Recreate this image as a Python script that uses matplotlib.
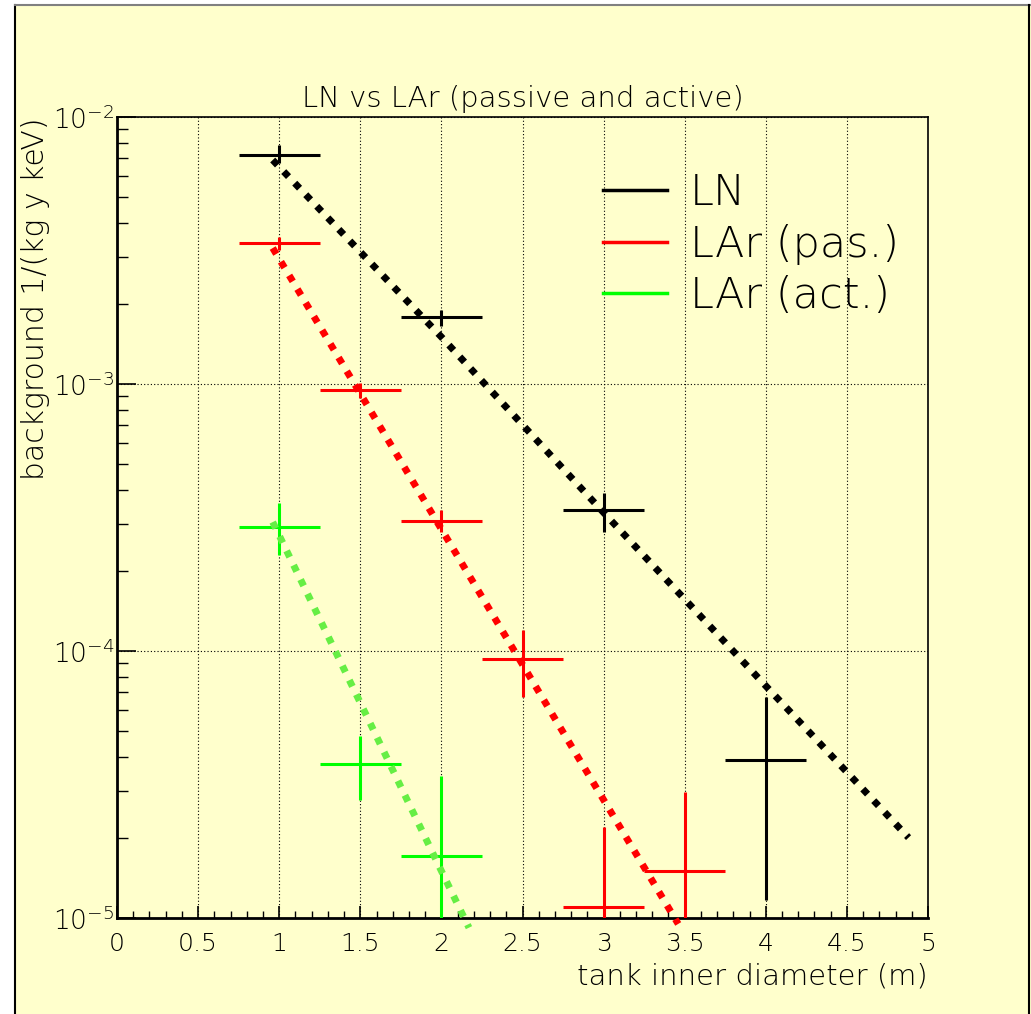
import numpy as np
import matplotlib
matplotlib.use("Agg")
import matplotlib.pyplot as plt
from matplotlib.ticker import FixedLocator, LogLocator, FuncFormatter, NullFormatter
from matplotlib.patches import Rectangle

plt.rcParams['font.family'] = ['DejaVu Sans']
plt.rcParams['font.weight'] = 'light'
plt.rcParams['axes.titleweight'] = 'light'
plt.rcParams['axes.labelweight'] = 'light'
plt.rcParams['mathtext.fontset'] = 'custom'
plt.rcParams['mathtext.rm'] = 'DejaVu Sans:light'

BG = "#ffffcc"

# measured points (x = tank inner diameter in m)
ln_x = [1, 2, 3, 4]
ln_y = [7.2e-3, 1.78e-3, 3.37e-4, 3.9e-5]
ln_lo = [6.7e-3, 1.65e-3, 2.8e-4, 1.17e-5]
ln_hi = [7.85e-3, 1.89e-3, 3.9e-4, 6.7e-5]

pas_x = [1, 1.5, 2, 2.5, 3, 3.5]
pas_y = [3.37e-3, 9.5e-4, 3.07e-4, 9.3e-5, 1.1e-5, 1.5e-5]
pas_lo = [3.18e-3, 8.9e-4, 2.79e-4, 6.7e-5, 1e-6, 1e-6]
pas_hi = [3.55e-3, 1.01e-3, 3.37e-4, 1.2e-4, 2.2e-5, 2.96e-5]

act_x = [1, 1.5, 2]
act_y = [2.91e-4, 3.78e-5, 1.7e-5]
act_lo = [2.29e-4, 2.77e-5, 1e-6]
act_hi = [3.58e-4, 4.8e-5, 3.4e-5]

x_half = 0.25  # horizontal bar half width

# fitted exponential curves
ln_fit_x = [0.96, 2.0, 3.0, 4.0, 4.88]
ln_fit_y = [6.9e-3, 1.5e-3, 3.3e-4, 7.4e-5, 2.0e-5]
pas_fit_x = [0.96, 1.5, 2.0, 2.5, 3.0, 3.46]
pas_fit_y = [3.23e-3, 9.2e-4, 2.86e-4, 8.9e-5, 2.77e-5, 9.5e-6]
act_fit_x = [0.96, 1.5, 2.0, 2.17]
act_fit_y = [3.04e-4, 6.4e-5, 1.5e-5, 9.2e-6]

fig = plt.figure(figsize=(10.31, 10.14), dpi=100)
fig.patch.set_facecolor("white")
# ROOT canvas frame
fig.patches.append(Rectangle((15/1031, -0.01), 1.0, 1.0 - 5/1014 + 0.01, transform=fig.transFigure,
                             facecolor=BG, edgecolor="none", zorder=-10))
fig.add_artist(plt.Line2D([15/1031, 15/1031], [0, 1 - 5/1014], transform=fig.transFigure, color="black", lw=1.5))
fig.add_artist(plt.Line2D([15/1031, 1], [1 - 5/1014, 1 - 5/1014], transform=fig.transFigure, color="#808080", lw=1.5))
fig.add_artist(plt.Line2D([1029/1031, 1029/1031], [0, 1 - 5/1014], transform=fig.transFigure, color="black", lw=1.5))

ax = fig.add_axes([117/1031, 96/1014, 811/1031, 801/1014])
ax.set_facecolor(BG)
ax.set_yscale("log")
ax.set_xlim(0, 5)
ax.set_ylim(1e-5, 1e-2)


def draw_points(x, y, lo, hi, color):
    for xi, yi, l, h in zip(x, y, lo, hi):
        ax.plot([xi - x_half, xi + x_half], [yi, yi], color=color, lw=2.2, solid_capstyle="butt", zorder=3)
        ax.plot([xi, xi], [l, h], color=color, lw=2.2, solid_capstyle="butt", zorder=3)


draw_points(ln_x, ln_y, ln_lo, ln_hi, "black")
draw_points(pas_x, pas_y, pas_lo, pas_hi, "#ff0000")
draw_points(act_x, act_y, act_lo, act_hi, "#00ff00")

dots = (0, (1, 1.3))
ax.plot(ln_fit_x, ln_fit_y, color="black", lw=5, ls=dots, dash_capstyle="butt", zorder=4, clip_on=False)
ax.plot(pas_fit_x, pas_fit_y, color="#ff0000", lw=5, ls=dots, dash_capstyle="butt", zorder=4, clip_on=False)
ax.plot(act_fit_x, act_fit_y, color="#66ee44", lw=5, ls=dots, dash_capstyle="butt", zorder=4, clip_on=False)

# legend
h1, = ax.plot([], [], color="black", lw=2.5)
h2, = ax.plot([], [], color="#ff0000", lw=2.5)
h3, = ax.plot([], [], color="#00ff00", lw=2.5)
leg = ax.legend([h1, h2, h3], ["LN", "LAr (pas.)", "LAr (act.)"], loc="upper left",
                bbox_to_anchor=(0.599, 0.931), frameon=False, fontsize=31,
                borderpad=0, borderaxespad=0,
                handlelength=1.49, handletextpad=0.53, labelspacing=0.24)

# axes styling
ax.xaxis.set_major_locator(FixedLocator(np.arange(0, 5.01, 0.5)))
ax.xaxis.set_minor_locator(FixedLocator(np.arange(0, 5.01, 0.1)))
ax.xaxis.set_major_formatter(FuncFormatter(lambda v, p: f"{v:g}"))
ax.yaxis.set_major_locator(LogLocator(base=10, numticks=10))
ax.yaxis.set_minor_locator(LogLocator(base=10, subs=np.arange(2, 10), numticks=10))
ax.yaxis.set_major_formatter(FuncFormatter(lambda v, p: r"$\mathrm{10^{%d}}$" % round(np.log10(v))))
ax.yaxis.set_minor_formatter(NullFormatter())

ax.tick_params(which="both", direction="in", top=False, right=False, colors="black")
ax.tick_params(axis="x", which="major", length=9, width=1.2, pad=10, labelsize=18)
ax.tick_params(axis="x", which="minor", length=5, width=1.0)
ax.tick_params(axis="y", which="major", length=14, width=1.2, pad=2, labelsize=19)
ax.tick_params(axis="y", which="minor", length=8, width=1.0)

for s in ["left", "bottom"]:
    ax.spines[s].set_linewidth(2.0)
for s in ["top", "right"]:
    ax.spines[s].set_linewidth(1.2)

ax.grid(True, which="major", color="black", lw=0.8, ls=(0, (1, 2)))
ax.set_axisbelow(True)

ax.set_title("LN vs LAr (passive and active)", fontsize=21, pad=7)
ax.set_xlabel("tank inner diameter (m)", fontsize=21, loc="right", labelpad=5)
ax.set_ylabel("background 1/(kg y keV)", fontsize=21.5, loc="top")
ax.yaxis.set_label_coords(-0.083, 1.0)

fig.savefig("out.png", dpi=100, facecolor=fig.get_facecolor())
